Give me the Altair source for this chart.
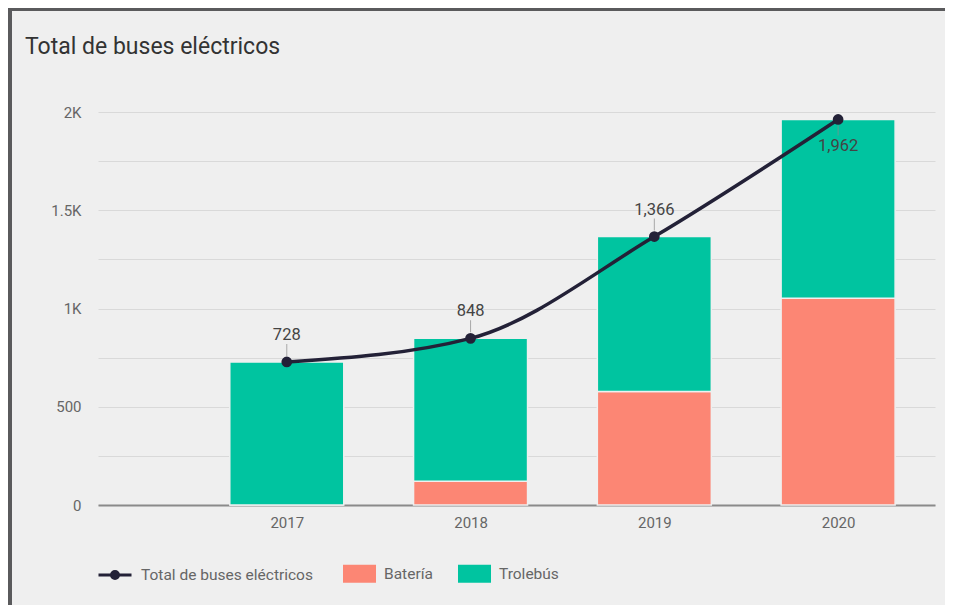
import altair as alt
import pandas as pd

# ---- data ----
years = [2017, 2018, 2019, 2020]
bateria = [0, 121, 577, 1052]
trolebus = [728, 727, 789, 910]
totales = [728, 848, 1366, 1962]

tipos = ["Batería", "Trolebús"]
serie_total = "Total de buses eléctricos"

bars_df = pd.DataFrame(
    {
        "year": years * 2,
        "tipo": ["Batería"] * 4 + ["Trolebús"] * 4,
        "orden": [0] * 4 + [1] * 4,
        "valor": bateria + trolebus,
    }
)
line_df = pd.DataFrame({"year": years, "total": totales, "serie": [serie_total] * 4})

BG = "#efefef"
DARK = "#232137"
TEAL = "#00c4a0"
SALMON = "#fc8674"
FONT = "Roboto"

x_enc = alt.X(
    "year:Q",
    scale=alt.Scale(domain=[2016, 2020.5], nice=False, zero=False),
    axis=alt.Axis(
        values=years,
        format="d",
        title=None,
        grid=False,
        ticks=False,
        domainColor="#8a8a8a",
        domainWidth=2,
        labelPadding=10,
        labelFontSize=15,
        labelColor="#666666",
        labelFont=FONT,
    ),
)
y_scale = alt.Scale(domain=[0, 2000], nice=False)
y_axis = alt.Axis(
    values=list(range(0, 2001, 250)),
    labelExpr="datum.value % 500 != 0 ? '' : (datum.value >= 1000 ? (datum.value / 1000) + 'K' : datum.value + '')",
    title=None,
    domain=False,
    ticks=False,
    gridColor="#d9d9d9",
    gridWidth=1,
    labelPadding=17,
    labelFontSize=15,
    labelColor="#666666",
    labelFont=FONT,
)

rect_path = "M-1,-0.55H1V0.55H-1Z"
line_path = (
    "M-1,0H1"
    "M0.212,0A0.212,0.212,0,1,1,-0.212,0A0.212,0.212,0,1,1,0.212,0"
    "M0.091,0A0.091,0.091,0,1,1,-0.091,0A0.091,0.091,0,1,1,0.091,0"
)

bars = (
    alt.Chart(bars_df)
    .mark_bar(size=114, stroke=BG, strokeWidth=1.5)
    .encode(
        x=x_enc,
        y=alt.Y("valor:Q", stack="zero", scale=y_scale, axis=y_axis),
        color=alt.Color(
            "tipo:N",
            scale=alt.Scale(domain=tipos, range=[SALMON, TEAL]),
            legend=alt.Legend(
                orient="none",
                legendX=245,
                legendY=445,
                direction="horizontal",
                title=None,
                symbolType=rect_path,
                symbolSize=1089,
                symbolStrokeWidth=0,
                labelOffset=8,
                columnPadding=25,
                labelFontSize=15.5,
                labelColor="#666666",
                labelFont=FONT,
                labelLimit=300,
                padding=0,
            ),
        ),
        order=alt.Order("orden:Q"),
    )
)

line = (
    alt.Chart(line_df)
    .mark_line(strokeWidth=3.5, interpolate="monotone")
    .encode(
        x="year:Q",
        y=alt.Y("total:Q", scale=y_scale),
        stroke=alt.Stroke(
            "serie:N",
            scale=alt.Scale(domain=[serie_total], range=[DARK]),
            legend=alt.Legend(
                orient="none",
                legendX=-1,
                legendY=445,
                title=None,
                symbolType=line_path,
                symbolSize=1089,
                symbolStrokeWidth=3,
                symbolFillColor=DARK,
                labelOffset=8,
                labelFontSize=15.5,
                labelColor="#666666",
                labelFont=FONT,
                labelLimit=300,
                padding=0,
            ),
        ),
    )
)

points = (
    alt.Chart(line_df)
    .mark_circle(size=115, color=DARK, opacity=1)
    .encode(x="year:Q", y=alt.Y("total:Q", scale=y_scale))
)

above = line_df[line_df["year"] < 2020]
below = line_df[line_df["year"] == 2020]

lead_above = (
    alt.Chart(above)
    .mark_tick(orient="vertical", size=12, thickness=1, yOffset=-12, color="#8a8a8a")
    .encode(x="year:Q", y=alt.Y("total:Q", scale=y_scale))
)
lead_below = (
    alt.Chart(below)
    .mark_tick(orient="vertical", size=10, thickness=1, yOffset=11, color="#8a8a8a")
    .encode(x="year:Q", y=alt.Y("total:Q", scale=y_scale))
)
text_above = (
    alt.Chart(above)
    .mark_text(dy=-27, fontSize=16.5, color="#444444", font=FONT, baseline="middle")
    .encode(x="year:Q", y=alt.Y("total:Q", scale=y_scale), text=alt.Text("total:Q", format=","))
)
text_below = (
    alt.Chart(below)
    .mark_text(dy=27, fontSize=16.5, color="#444444", font=FONT, baseline="middle")
    .encode(x="year:Q", y=alt.Y("total:Q", scale=y_scale), text=alt.Text("total:Q", format=","))
)

frame_df = pd.DataFrame({"k": [0]})
border_left = (
    alt.Chart(frame_df)
    .mark_rule(color="#5a5a5c", strokeWidth=4)
    .encode(x=alt.value(-88), y=alt.value(-104), y2=alt.value(500))
)
border_top = (
    alt.Chart(frame_df)
    .mark_rule(color="#5a5a5c", strokeWidth=4)
    .encode(x=alt.value(-90), x2=alt.value(850), y=alt.value(-103))
)

chart = (
    alt.layer(bars, line, points, lead_above, lead_below, text_above, text_below, border_left, border_top)
    .resolve_scale(color="independent")
    .properties(
        width=837,
        height=393,
        autosize=alt.AutoSizeParams(type="none"),
        padding={"left": 90, "top": 104, "right": 10, "bottom": 100},
        background=BG,
        title=alt.TitleParams(
            "Total de buses eléctricos",
            anchor="start",
            frame="group",
            dx=-73,
            offset=-71,
            baseline="alphabetic",
            fontSize=23,
            fontWeight="normal",
            color="#333333",
            font=FONT,
        ),
    )
    .configure_view(stroke=None)
)

chart.save("out.html", embed_options={"renderer": "svg", "actions": False})
